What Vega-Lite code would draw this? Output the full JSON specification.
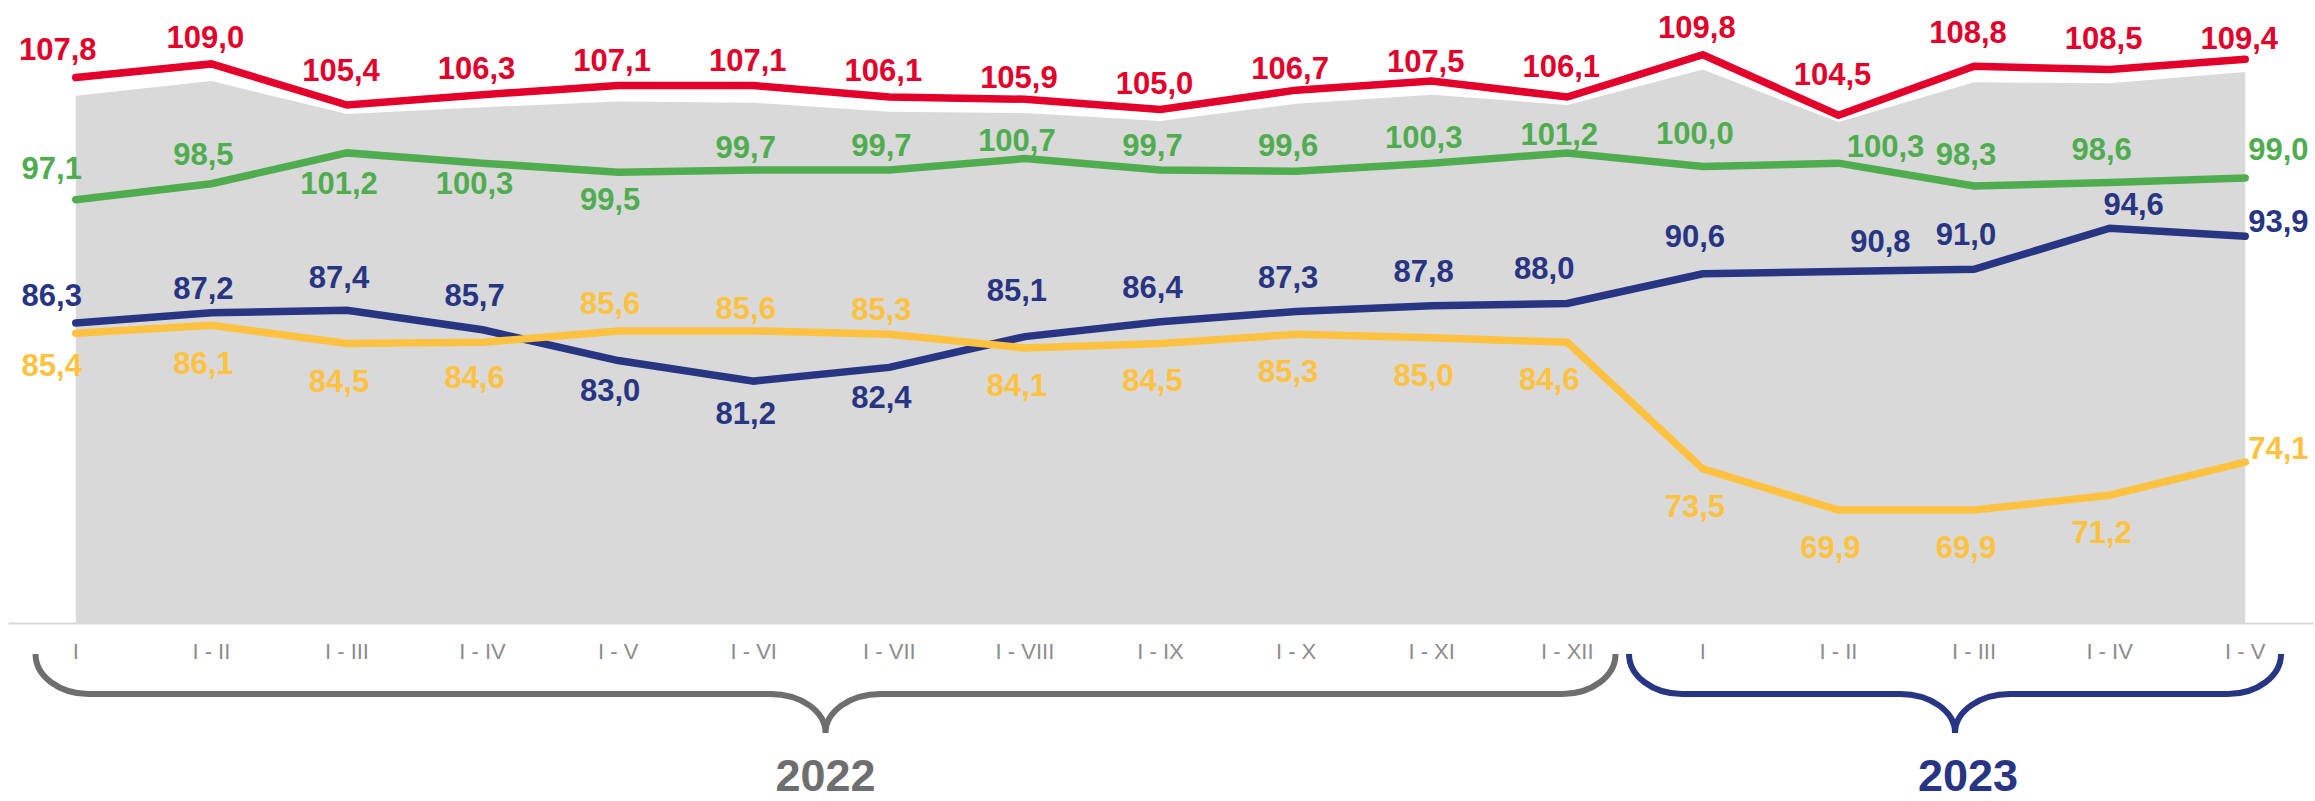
{
  "$schema": "https://vega.github.io/schema/vega-lite/v6.json",
  "autosize": "none",
  "width": 2305,
  "height": 623,
  "padding": {"left": 8, "right": 2, "top": 0, "bottom": 178},
  "background": "white",
  "config": {
    "view": {"stroke": null},
    "locale": {"number": {"decimal": ",", "thousands": ".", "grouping": [3], "currency": ["", " €"]}},
    "text": {"font": "Liberation Sans, Arial, sans-serif"}
  },
  "datasets": {
    "main": [
      {"i": 0, "period": "I", "year": "2022", "v1": 107.8, "v2": 97.1, "v3": 86.3, "v4": 85.4, "bg": 106.2},
      {"i": 1, "period": "I - II", "year": "2022", "v1": 109.0, "v2": 98.5, "v3": 87.2, "v4": 86.1, "bg": 107.5},
      {"i": 2, "period": "I - III", "year": "2022", "v1": 105.4, "v2": 101.2, "v3": 87.4, "v4": 84.5, "bg": 104.6},
      {"i": 3, "period": "I - IV", "year": "2022", "v1": 106.3, "v2": 100.3, "v3": 85.7, "v4": 84.6, "bg": 105.2},
      {"i": 4, "period": "I - V", "year": "2022", "v1": 107.1, "v2": 99.5, "v3": 83.0, "v4": 85.6, "bg": 105.7},
      {"i": 5, "period": "I - VI", "year": "2022", "v1": 107.1, "v2": 99.7, "v3": 81.2, "v4": 85.6, "bg": 105.6},
      {"i": 6, "period": "I - VII", "year": "2022", "v1": 106.1, "v2": 99.7, "v3": 82.4, "v4": 85.3, "bg": 104.8},
      {"i": 7, "period": "I - VIII", "year": "2022", "v1": 105.9, "v2": 100.7, "v3": 85.1, "v4": 84.1, "bg": 104.7},
      {"i": 8, "period": "I - IX", "year": "2022", "v1": 105.0, "v2": 99.7, "v3": 86.4, "v4": 84.5, "bg": 104.0},
      {"i": 9, "period": "I - X", "year": "2022", "v1": 106.7, "v2": 99.6, "v3": 87.3, "v4": 85.3, "bg": 105.5},
      {"i": 10, "period": "I - XI", "year": "2022", "v1": 107.5, "v2": 100.3, "v3": 87.8, "v4": 85.0, "bg": 106.3},
      {"i": 11, "period": "I - XII", "year": "2022", "v1": 106.1, "v2": 101.2, "v3": 88.0, "v4": 84.6, "bg": 105.4},
      {"i": 12, "period": "I", "year": "2023", "v1": 109.8, "v2": 100.0, "v3": 90.6, "v4": 73.5, "bg": 108.5},
      {"i": 13, "period": "I - II", "year": "2023", "v1": 104.5, "v2": 100.3, "v3": 90.8, "v4": 69.9, "bg": 103.9},
      {"i": 14, "period": "I - III", "year": "2023", "v1": 108.8, "v2": 98.3, "v3": 91.0, "v4": 69.9, "bg": 107.4},
      {"i": 15, "period": "I - IV", "year": "2023", "v1": 108.5, "v2": 98.6, "v3": 94.6, "v4": 71.2, "bg": 107.3},
      {"i": 16, "period": "I - V", "year": "2023", "v1": 109.4, "v2": 99.0, "v3": 93.9, "v4": 74.1, "bg": 108.3}
    ],
    "years": [
      {"year": "2022", "first": 0, "last": 11},
      {"year": "2023", "first": 12, "last": 16}
    ]
  },
  "data": {"name": "main"},
  "encoding": {
    "x": {
      "field": "i", "type": "quantitative",
      "scale": {"domain": [-0.5, 16.5], "nice": false, "zero": false},
      "axis": {"labels": false, "ticks": false, "grid": false, "title": null, "domainColor": "#d9d9d9", "domainWidth": 2}
    }
  },
  "layer": [
    {
      "mark": {"type": "area", "color": "#d9d9d9", "opacity": 1},
      "encoding": {
        "y": {"field": "bg", "type": "quantitative", "scale": {"domain": [60, 114.6], "nice": false, "zero": false}, "axis": null},
        "y2": {"datum": 60}
      }
    },
    {
      "mark": {"type": "line", "color": "#e3002b", "strokeWidth": 7.5, "strokeCap": "round"},
      "encoding": {"y": {"field": "v1", "type": "quantitative"}}
    },
    {
      "mark": {"type": "line", "color": "#50ad4f", "strokeWidth": 7.5, "strokeCap": "round"},
      "encoding": {"y": {"field": "v2", "type": "quantitative"}}
    },
    {
      "mark": {"type": "line", "color": "#283583", "strokeWidth": 7.5, "strokeCap": "round"},
      "encoding": {"y": {"field": "v3", "type": "quantitative"}}
    },
    {
      "mark": {"type": "line", "color": "#fec240", "strokeWidth": 7.5, "strokeCap": "round"},
      "encoding": {"y": {"field": "v4", "type": "quantitative"}}
    },
    {
      "mark": {
        "type": "text", "color": "#e3002b", "fontSize": 31, "fontWeight": "bold", "baseline": "middle", "align": "center",
        "dx": {"expr": "datum.i == 0 ? -18 : -6"},
        "dy": {"expr": "[-27,-25,-33,-25,-24,-24,-25,-20,-25,-20,-18,-29,-26,-39,-32,-30,-19][datum.i]"}
      },
      "encoding": {"y": {"field": "v1", "type": "quantitative"}, "text": {"field": "v1", "type": "quantitative", "format": ".1f"}}
    },
    {
      "mark": {
        "type": "text", "color": "#50ad4f", "fontSize": 31, "fontWeight": "bold", "baseline": "middle",
        "align": {"expr": "datum.i == 16 ? 'left' : 'center'"},
        "dx": {"expr": "datum.i == 0 ? -24 : datum.i == 13 ? 47 : datum.i == 16 ? 3 : -8"},
        "dy": {"expr": "[-30,-28,32,22,29,-21,-23,-17,-23,-24,-24,-17,-32,-15,-30,-32,-27][datum.i]"}
      },
      "encoding": {"y": {"field": "v2", "type": "quantitative"}, "text": {"field": "v2", "type": "quantitative", "format": ".1f"}}
    },
    {
      "mark": {
        "type": "text", "color": "#283583", "fontSize": 31, "fontWeight": "bold", "baseline": "middle",
        "align": {"expr": "datum.i == 16 ? 'left' : 'center'"},
        "dx": {"expr": "datum.i == 0 ? -24 : datum.i == 11 ? -23 : datum.i == 13 ? 42 : datum.i == 15 ? 24 : datum.i == 16 ? 3 : -8"},
        "dy": {"expr": "[-26,-23,-31,-33,31,34,32,-45,-33,-33,-33,-34,-36,-29,-33,-22,-13][datum.i]"}
      },
      "encoding": {"y": {"field": "v3", "type": "quantitative"}, "text": {"field": "v3", "type": "quantitative", "format": ".1f"}}
    },
    {
      "mark": {
        "type": "text", "color": "#fec240", "fontSize": 31, "fontWeight": "bold", "baseline": "middle",
        "align": {"expr": "datum.i == 16 ? 'left' : 'center'"},
        "dx": {"expr": "datum.i == 0 ? -24 : datum.i == 11 ? -18 : datum.i == 16 ? 3 : -8"},
        "dy": {"expr": "[34,40,40,37,-26,-21,-23,39,39,39,39,39,39,39,39,39,-12][datum.i]"}
      },
      "encoding": {"y": {"field": "v4", "type": "quantitative"}, "text": {"field": "v4", "type": "quantitative", "format": ".1f"}}
    },
    {
      "mark": {"type": "text", "color": "#8c8c8c", "fontSize": 22, "baseline": "alphabetic", "align": "center"},
      "encoding": {"y": {"datum": 56.84}, "text": {"field": "period", "type": "nominal"}}
    },
    {
      "data": {"name": "years"},
      "transform": [{"calculate": "(datum.first + datum.last) / 2", "as": "mid"}, {"filter": "datum.year == '2022'"}],
      "mark": {
        "type": "point", "filled": false, "opacity": 1, "strokeOpacity": 1, "fillOpacity": 0, "color": "#6e6e6e", "strokeWidth": 6, "size": 40000,
        "shape": "M -7.86 -0.4 C -7.86 -0.179 -7.623 0 -7.33 0 L -0.51 0 C -0.206 0 0.04 0.175 0.04 0.39 C 0.04 0.175 0.286 0 0.59 0 L 7.41 0 C 7.703 0 7.94 -0.179 7.94 -0.4"
      },
      "encoding": {"x": {"field": "mid", "type": "quantitative"}, "y": {"datum": 53.78}}
    },
    {
      "data": {"name": "years"},
      "transform": [{"calculate": "(datum.first + datum.last) / 2", "as": "mid"}, {"filter": "datum.year == '2023'"}],
      "mark": {
        "type": "point", "filled": false, "opacity": 1, "strokeOpacity": 1, "fillOpacity": 0, "color": "#283583", "strokeWidth": 6, "size": 40000,
        "shape": "M -3.45 -0.4 C -3.45 -0.179 -3.213 0 -2.92 0 L -0.74 0 C -0.436 0 -0.19 0.175 -0.19 0.39 C -0.19 0.175 0.056 0 0.36 0 L 2.54 0 C 2.833 0 3.07 -0.179 3.07 -0.4"
      },
      "encoding": {"x": {"field": "mid", "type": "quantitative"}, "y": {"datum": 53.78}}
    },
    {
      "data": {"name": "years"},
      "transform": [{"calculate": "(datum.first + datum.last) / 2", "as": "mid"}],
      "mark": {
        "type": "text", "fontSize": 45, "fontWeight": "bold", "baseline": "alphabetic", "align": "center",
        "dx": {"expr": "datum.year == '2022' ? 4 : -6"},
        "color": {"expr": "datum.year == '2022' ? '#6e6e6e' : '#283583'"}
      },
      "encoding": {"x": {"field": "mid", "type": "quantitative"}, "y": {"datum": 45.28}, "text": {"field": "year", "type": "nominal"}}
    }
  ]
}
